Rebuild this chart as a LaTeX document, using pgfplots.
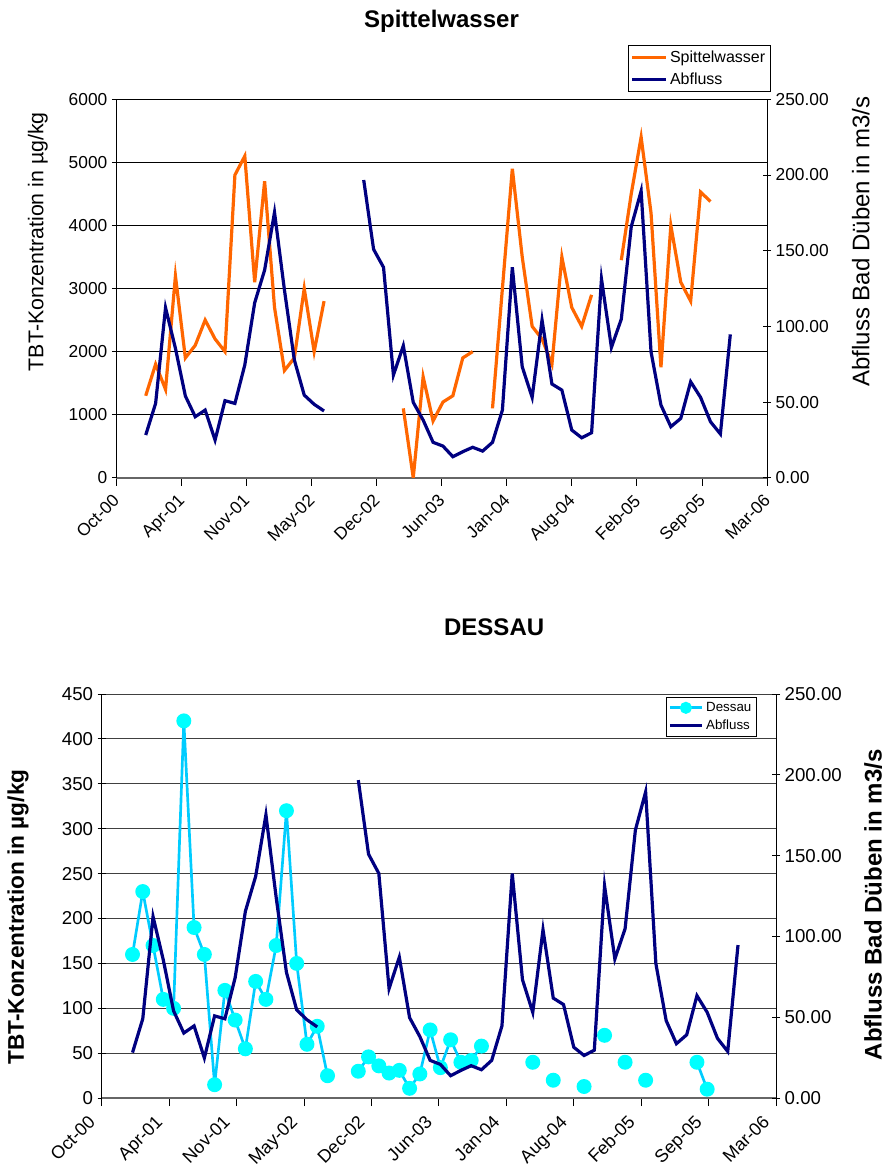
\documentclass[border=0pt]{standalone}
\usepackage{pgfplots}
\pgfplotsset{compat=1.18}
\usepackage{pgfplotstable}
\usepackage{fontspec}
\setmainfont{Liberation Sans}

\definecolor{spit}{HTML}{FF6600}
\definecolor{abfl}{HTML}{000080}
\definecolor{dessline}{HTML}{00CCFF}
\definecolor{dessmark}{HTML}{00FFFF}

% d = days since 1 Oct 2000
\pgfplotstableread{
d spit abfl dess
91.3 1300 28.2 160
121.7 1800 49.1 230
152.2 1400 112.3 170
182.6 3200 85.5 110
213.1 1900 54.0 100
243.5 2100 40.3 420
273.9 2500 44.7 190
304.4 2200 24.9 160
334.8 2000 50.9 15
365.3 4800 49.1 120
395.7 5100 74.5 87
426.1 3100 115.6 55
456.6 4700 137.2 130
487.0 2700 175.3 110
517.5 1700 124.0 170
547.9 1900 77.8 320
578.3 3000 54.6 150
608.8 2000 48.5 60
639.2 2800 44.1 80
669.7 nan nan 25
700.1 nan nan nan
730.5 nan nan nan
761.0 nan 196.7 30
791.4 nan 150.9 46
821.9 nan 139.0 36
852.3 nan 67.8 28
882.7 1100 87.2 31
913.2 0 49.8 11
943.6 1600 38.1 27
974.1 900 23.4 76
1004.5 1200 20.9 34
1034.9 1300 13.9 65
1065.4 1900 17.2 40
1095.8 2000 20.1 42
1126.3 nan 17.6 58
1156.7 1100 23.4 nan
1187.1 3000 44.7 nan
1217.6 4900 139.0 nan
1248.0 3500 73.3 nan
1278.5 2400 53.1 40
1308.9 2200 104.2 nan
1339.3 1800 61.9 20
1369.8 3500 57.9 nan
1400.2 2700 31.5 nan
1430.7 2400 26.4 13
1461.1 2900 29.7 nan
1491.5 nan 131.3 70
1522.0 nan 86.1 nan
1552.4 3450 104.8 40
1582.9 4500 165.8 nan
1613.3 5400 189.4 20
1643.7 4200 83.2 nan
1674.2 1750 48.0 nan
1704.6 4000 33.7 nan
1735.1 3100 39.2 nan
1765.5 2800 63.4 40
1795.9 4530 53.1 10
1826.4 4380 37.0 nan
1856.8 nan 28.9 nan
1887.3 nan 94.7 nan
}\data

\pgfplotsset{
  common/.style={
    anchor=south west, scale only axis,
    xmin=0, xmax=2000,
    unbounded coords=jump,
    /pgf/number format/assume math mode=true,
    scaled ticks=false,
    tick style={black, line width=0.6pt},
    y axis line style={black, line width=0.7pt},
    x axis line style={black!60, line width=1.2pt},
    ytick align=center, major tick length=6pt,
    xtick align=outside,
  },
  topdims/.style={at={(87pt,517.7pt)}, width=488.25pt, height=283.8pt,
    tick label style={font=\fontsize{13}{15}\selectfont}},
  botdims/.style={at={(76.3pt,52.35pt)}, width=505.7pt, height=303.2pt,
    tick label style={font=\fontsize{14}{16}\selectfont}},
  datex/.style={
    xtick={0,200,...,2000},
    xticklabels={Oct-00,Apr-01,Nov-01,May-02,Dec-02,Jun-03,Jan-04,Aug-04,Feb-05,Sep-05,Mar-06},
  },
  rightax/.style={
    axis x line=none, axis y line*=right,
    ymin=0, ymax=250, ytick={0,50,...,250},
    yticklabel style={/pgf/number format/fixed, /pgf/number format/fixed zerofill, /pgf/number format/precision=2},
  },
}

\begin{document}
\begin{tikzpicture}
\useasboundingbox (0,0) rectangle (664.5pt,876pt);

% ---------------- top chart ----------------
\begin{axis}[common, topdims, datex,
  axis x line*=bottom, axis y line*=left,
  ymin=0, ymax=6000, ytick={0,1000,...,6000},
  /pgf/number format/1000 sep={},
  ymajorgrids, grid style={black, line width=0.6pt},
  xticklabel style={rotate=45, anchor=north east, inner sep=0pt, xshift=-6.2pt, yshift=-1.7pt},
  ylabel={TBT-Konzentration in µg/kg},
  ylabel style={at={(axis description cs:-0.12,0.624)}, anchor=center, font=\fontsize{16}{18}\selectfont},
  title={\textbf{Spittelwasser}},
  title style={at={(axis description cs:0.5,1.184)}, anchor=center, font=\fontsize{18}{20}\selectfont},
]
\addplot[spit, line width=2.4pt] table[x=d, y=spit]{\data};
\end{axis}
\begin{axis}[common, topdims, rightax,
  ylabel={Abfluss Bad Düben in m3/s},
  ylabel style={at={(axis description cs:1.144,0.624)}, anchor=center, font=\fontsize{18}{20}\selectfont},
  legend style={at={(axis description cs:1.006,1.144)}, anchor=north east, draw=black, line width=0.6pt,
    font=\fontsize{12}{14}\selectfont, inner sep=2pt, row sep=2.5pt},
  legend cell align=left,
  legend image code/.code={\draw[#1] (0pt,0pt) -- (25pt,0pt);},
]
\addlegendimage{spit, line width=2.4pt}
\addlegendentry{Spittelwasser}
\addplot[abfl, line width=2.4pt] table[x=d, y=abfl]{\data};
\addlegendentry{Abfluss}
\end{axis}

% ---------------- bottom chart ----------------
\begin{axis}[common, botdims, datex,
  axis x line*=bottom, axis y line*=left,
  ymin=0, ymax=450, ytick={0,50,...,450},
  ymajorgrids, grid style={black!75, line width=0.6pt},
  xticklabel style={rotate=45, anchor=north east, inner sep=0pt, xshift=-11.8pt, yshift=3.6pt, font=\fontsize{13.5}{15}\selectfont},
  ylabel={\textbf{TBT-Konzentration in µg/kg}},
  ylabel style={at={(axis description cs:-0.124,0.448)}, anchor=center, font=\fontsize{17}{19}\selectfont},
  title={\textbf{DESSAU}},
  title style={at={(axis description cs:0.582,1.146)}, anchor=center, font=\fontsize{18}{20}\selectfont},
]
\addplot[dessline, line width=2pt, mark=*, mark size=4.6pt,
  mark options={fill=dessmark, draw=dessmark}] table[x=d, y=dess]{\data};
\end{axis}
\begin{axis}[common, botdims, rightax,
  ylabel={\textbf{Abfluss Bad Düben in m3/s}},
  ylabel style={at={(axis description cs:1.144,0.478)}, anchor=center, font=\fontsize{18}{20}\selectfont},
  legend style={at={(axis description cs:0.971,0.992)}, anchor=north east, draw=black, line width=0.6pt,
    font=\fontsize{10}{12}\selectfont, inner sep=1.5pt, row sep=1pt},
  legend cell align=left,
  legend image code/.code={\draw[mark repeat=2, mark phase=2, #1] plot coordinates {(0pt,0pt) (12pt,0pt) (24pt,0pt)};},
]
\addlegendimage{dessline, line width=2pt, mark=*, mark size=3.5pt, mark options={fill=dessmark, draw=dessmark}}
\addlegendentry{Dessau}
\addplot[abfl, line width=2.4pt] table[x=d, y=abfl]{\data};
\addlegendentry{Abfluss}
\end{axis}
\end{tikzpicture}
\end{document}
